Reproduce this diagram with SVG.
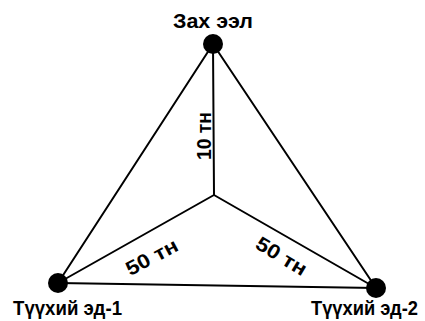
<svg xmlns="http://www.w3.org/2000/svg" width="425" height="321" viewBox="0 0 425 321">
<style>
.lbl{font-family:"Liberation Sans",Arial,sans-serif;font-weight:bold;font-size:20px;fill:#000}
.edge{stroke:#000;stroke-width:2;fill:none;stroke-linecap:round}
.node{fill:#000}
</style>
<rect width="425" height="321" fill="#fff"/>
<g id="connectors">
<line class="edge" x1="213" y1="44" x2="58" y2="283"/>
<line class="edge" x1="213" y1="44" x2="376" y2="288"/>
<line class="edge" x1="58" y1="283" x2="376" y2="288"/>
<line class="edge" x1="213" y1="44" x2="214" y2="195"/>
<line class="edge" x1="214" y1="195" x2="58" y2="283"/>
<line class="edge" x1="214" y1="195" x2="376" y2="288"/>
</g>
<g id="label-10"><text class="lbl" transform="translate(211,136) rotate(-90)" text-anchor="middle" textLength="48" lengthAdjust="spacingAndGlyphs">10 тн</text></g>
<g id="label-50a"><text class="lbl" transform="translate(155,263) rotate(-28)" text-anchor="middle" textLength="56" lengthAdjust="spacingAndGlyphs">50 тн</text></g>
<g id="label-50b"><text class="lbl" transform="translate(278,262) rotate(31)" text-anchor="middle" textLength="56" lengthAdjust="spacingAndGlyphs">50 тн</text></g>
<g id="node-top"><circle class="node" cx="213" cy="44" r="10"/><text class="lbl" x="213" y="28" text-anchor="middle" textLength="80" lengthAdjust="spacingAndGlyphs">Зах ээл</text></g>
<g id="node-left"><circle class="node" cx="58" cy="283" r="10"/><text class="lbl" x="13" y="315" textLength="109" lengthAdjust="spacingAndGlyphs">Түүхий эд-1</text></g>
<g id="node-right"><circle class="node" cx="376" cy="288" r="10"/><text class="lbl" x="311" y="315" textLength="107" lengthAdjust="spacingAndGlyphs">Түүхий эд-2</text></g>
</svg>
